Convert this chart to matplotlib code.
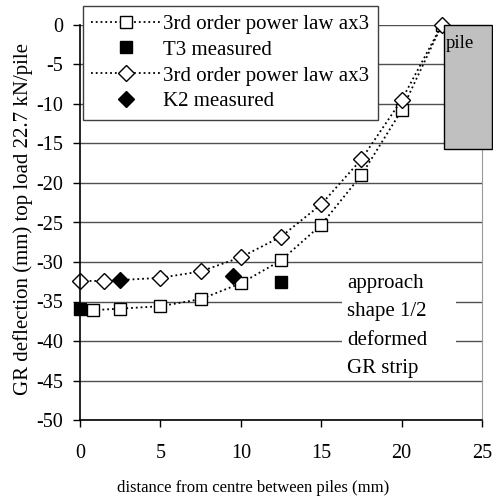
import matplotlib
matplotlib.use("Agg")
import matplotlib.pyplot as plt
from matplotlib.patches import Rectangle

plt.rcParams['font.family'] = ['Liberation Serif', 'DejaVu Serif']
plt.rcParams['axes.unicode_minus'] = False

# ------------------------------
# Data
# ------------------------------
t3_fit_x = [0.8, 2.5, 5, 7.5, 10, 12.5, 15, 17.5, 20, 22.5]
t3_fit_y = [-36.1, -35.9, -35.6, -34.7, -32.7, -29.8, -25.3, -19.0, -10.8, 0.0]

t3_meas_x = [0, 12.5]
t3_meas_y = [-36.0, -32.5]

k2_fit_x = [0, 1.5, 5, 7.5, 10, 12.5, 15, 17.5, 20, 22.5]
k2_fit_y = [-32.4, -32.4, -32.0, -31.2, -29.4, -26.8, -22.7, -17.0, -9.5, 0.0]

k2_meas_x = [2.5, 9.5]
k2_meas_y = [-32.3, -31.8]

labels = ['3rd order power law ax3', 'T3 measured',
          '3rd order power law ax3', 'K2 measured']

x_ticks = [0, 5, 10, 15, 20, 25]
y_ticks = [0, -5, -10, -15, -20, -25, -30, -35, -40, -45, -50]

note_lines = ['approach', 'shape 1/2', 'deformed', 'GR strip']

# ------------------------------
# Figure
# ------------------------------
fig = plt.figure(figsize=(4.93, 4.99), dpi=100)
ax = fig.add_axes([80 / 493, 79 / 499, 402 / 493, 395 / 499])

ax.set_xlim(0, 25)
ax.set_ylim(-50, 0)
ax.set_xticks(x_ticks)
ax.set_yticks(y_ticks)
ax.tick_params(direction='out', length=5, width=1, labelsize=14.5, colors='black')
ax.tick_params(axis='x', pad=12)
ax.tick_params(axis='y', pad=7)
ax.yaxis.grid(True, color='#505050', linewidth=1)
ax.set_axisbelow(True)
ax.spines['top'].set_visible(False)
ax.spines['right'].set_color('#999999')
for s in ['left', 'bottom']:
    ax.spines[s].set_linewidth(1.2)

h1, = ax.plot(t3_fit_x, t3_fit_y, linestyle=':', color='black', linewidth=1.3,
              marker='s', markersize=9, markerfacecolor='white',
              markeredgecolor='black', markeredgewidth=1)
h2, = ax.plot(t3_meas_x, t3_meas_y, linestyle='none', marker='s', markersize=9,
              color='black', clip_on=False)
h3, = ax.plot(k2_fit_x, k2_fit_y, linestyle=':', color='black', linewidth=1.3,
              marker='D', markersize=8, markerfacecolor='white',
              markeredgecolor='black', markeredgewidth=1, clip_on=False)
h4, = ax.plot(k2_meas_x, k2_meas_y, linestyle='none', marker='D', markersize=8,
              color='black')

# pile
pile = Rectangle((22.65, -15.7), 3.0, 15.7, facecolor='#c0c0c0',
                 edgecolor='black', linewidth=1, clip_on=False, zorder=5)
ax.add_patch(pile)
ax.text(22.75, -2.3, 'pile', fontsize=13.5, va='center', ha='left', zorder=6)

# note box (white patch hides the grid behind the text)
ax.add_patch(Rectangle((16.3, -44.0), 7.1, 13.1, facecolor='white',
                       edgecolor='none', zorder=1))
ax.text(16.63, -38.1, '\n'.join(note_lines), fontsize=15, va='center', ha='left',
        linespacing=1.65, zorder=4)

ax.set_xlabel('distance from centre between piles (mm)', fontsize=12)
ax.xaxis.set_label_coords(0.43, -0.152)
ax.set_ylabel('GR deflection (mm) top load 22.7 kN/pile', fontsize=15)
ax.yaxis.set_label_coords(-0.117, 0.51)

leg = ax.legend([h1, h2, h3, h4], labels, loc='upper left',
                bbox_to_anchor=(83 / 493, 1 - 6 / 499), bbox_transform=fig.transFigure,
                borderaxespad=0, fancybox=False, framealpha=1, fontsize=15,
                handlelength=3.3, handletextpad=0.15, labelspacing=0.3,
                borderpad=0.4)
leg.get_frame().set_edgecolor('#404040')
leg.get_frame().set_linewidth(1)
leg.set_zorder(10)

fig.savefig('out.png', dpi=100)
